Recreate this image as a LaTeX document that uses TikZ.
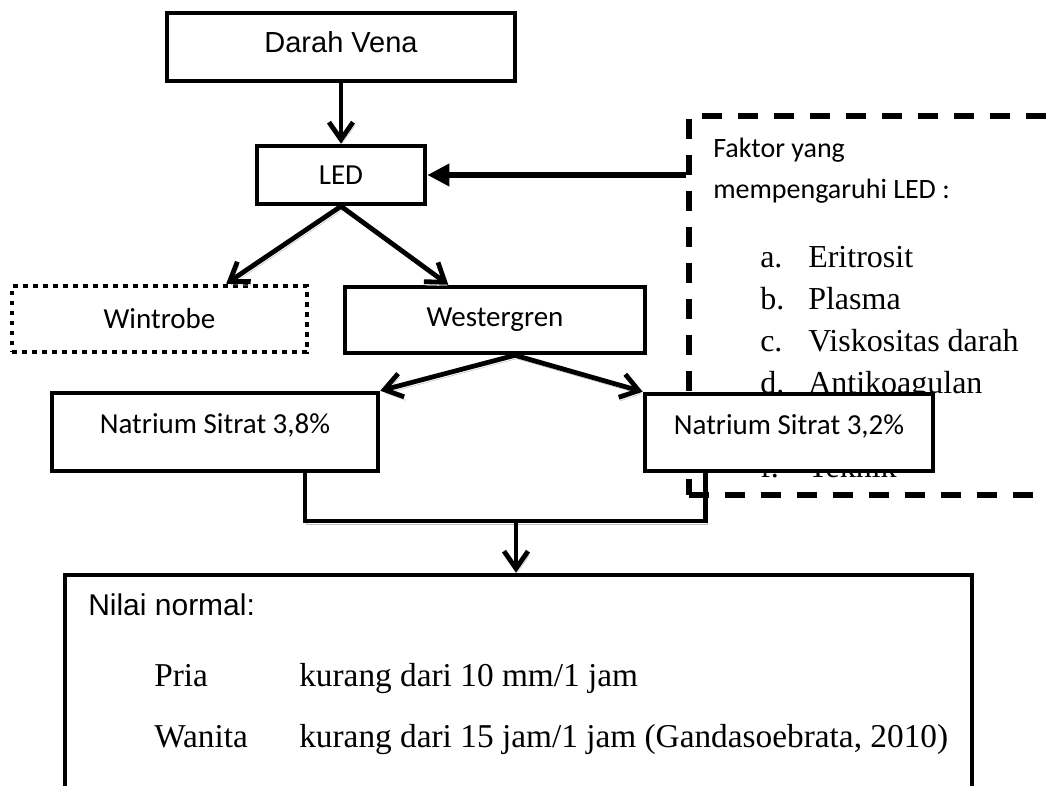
\documentclass[tikz,border=0pt]{standalone}
\usepackage{fontspec}
\usepackage{tikz}
\usetikzlibrary{arrows.meta}
\newfontfamily\calfont{Carlito}
\newfontfamily\arialfont{Liberation Sans}
\newfontfamily\romfont{Liberation Serif}

\tikzset{
  box/.style={draw, line width=3.4pt, fill=white, inner sep=0pt, font=\calfont\fontsize{21.75}{26}\selectfont},
  dotbox/.style={box, dash pattern=on 3.6pt off 3.9pt},
  dashbox/.style={draw, line width=3.8pt, dash pattern=on 15pt off 12pt, inner sep=0pt},
  shd/.style={preaction={draw=gray!50, transform canvas={shift={(1.2pt,-2.6pt)}}}},
  arr/.style={line width=3.6pt, -{Straight Barb[length=13pt,width=18pt]}, shd},
  link/.style={line width=3.6pt, shd},
  fat/.style={line width=4.5pt, -{Triangle[length=16.5pt,width=16pt]}},
  txt/.style={anchor=base west, inner sep=0pt},
}

\begin{document}
\begin{tikzpicture}[x=0.75pt,y=0.75pt,yscale=-1,xscale=1]
\path[use as bounding box, clip] (0,0) rectangle (1049,785);

% factors box (behind the 3,2% box)
\node[dashbox, minimum width=315.75pt, minimum height=284.25pt] (faktor) at (899.5,305.5) {};
\node[txt, font=\calfont\fontsize{21}{25}\selectfont] (fk1) at (713,157) {Faktor yang};
\node[txt, font=\calfont\fontsize{21}{25}\selectfont] (fk2) at (713,198) {mempengaruhi LED :};
\node[txt, font=\romfont\fontsize{24}{28}\selectfont] (la) at (760,267) {a.};
\node[txt, font=\romfont\fontsize{24}{28}\selectfont] (ia) at (808,267) {Eritrosit};
\node[txt, font=\romfont\fontsize{24}{28}\selectfont] (lb) at (760,309) {b.};
\node[txt, font=\romfont\fontsize{24}{28}\selectfont] (ib) at (808,309) {Plasma};
\node[txt, font=\romfont\fontsize{24}{28}\selectfont] (lc) at (760,351) {c.};
\node[txt, font=\romfont\fontsize{24}{28}\selectfont] (ic) at (808,351) {Viskositas darah};
\node[txt, font=\romfont\fontsize{24}{28}\selectfont] (ld) at (760,393) {d.};
\node[txt, font=\romfont\fontsize{24}{28}\selectfont] (id) at (808,393) {Antikoagulan};
\node[txt, font=\romfont\fontsize{24}{28}\selectfont] (lf) at (760,477) {f.};
\node[txt, font=\romfont\fontsize{24}{28}\selectfont] (if) at (808,477) {Teknik};

% boxes
\node[box, minimum width=261pt, minimum height=51pt, text depth=7pt, font=\arialfont\fontsize{21.75}{26}\selectfont] (vena) at (341,47) {Darah Vena};
\node[box, minimum width=126pt, minimum height=43.5pt] (led) at (341,175) {LED};
\node[dotbox, minimum width=221pt, minimum height=49.5pt] (wintrobe) at (159.5,319) {Wintrobe};
\node[box, minimum width=225pt, minimum height=49.5pt] (wester) at (495,320) {Westergren};
\node[box, minimum width=244.5pt, minimum height=58.5pt, text depth=12pt] (n38) at (215,432) {Natrium Sitrat 3,8\%};
\node[box, minimum width=216pt, minimum height=57.75pt, text depth=12pt] (n32) at (789,432.5) {Natrium Sitrat 3,2\%};
\node[box, minimum width=680.25pt, minimum height=191.25pt] (nilai) at (518.5,702.5) {};

% normal values
\node[txt, font=\arialfont\fontsize{22.5}{27}\selectfont] (nn) at (88,615) {Nilai normal:};
\node[txt, font=\romfont\fontsize{25}{29}\selectfont] (pria) at (154,686) {Pria};
\node[txt, font=\romfont\fontsize{25}{29}\selectfont] (vpria) at (299,686) {kurang dari 10 mm/1 jam};
\node[txt, font=\romfont\fontsize{25}{29}\selectfont] (wanita) at (154,747) {Wanita};
\node[txt, font=\romfont\fontsize{25}{29}\selectfont] (vwanita) at (299,747) {kurang dari 15 jam/1 jam (Gandasoebrata, 2010)};

% connectors
\draw[arr] (vena) -- (led);
\draw[fat] (faktor.west |- led) -- (led.east);
\draw[arr] (led.south) -- ([xshift=50pt]wintrobe.north);
\draw[arr] (led.south) -- ([xshift=-35pt]wester.north);
\draw[arr] ([xshift=15pt]wester.south) -- (n38.north east);
\draw[arr] ([xshift=15pt]wester.south) -- (n32.north west);
\coordinate (join) at (516,521);
\draw[link] ([xshift=67.5pt]n38.south) |- (join) -| ([xshift=47pt]n32.south west);
\draw[arr] (join) -- (join |- nilai.north);
\end{tikzpicture}
\end{document}
